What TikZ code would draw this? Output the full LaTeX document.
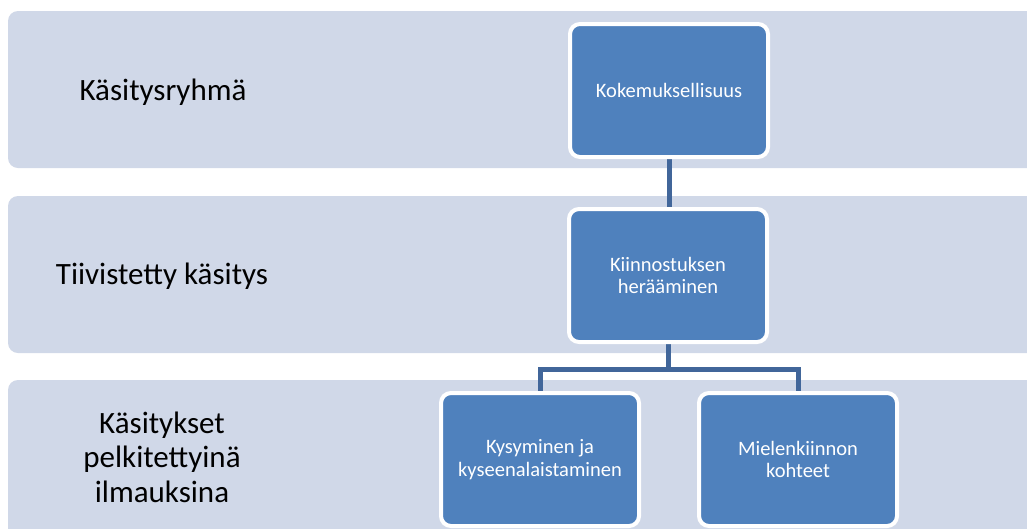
\documentclass[tikz,border=0pt]{standalone}
\usepackage{fontspec}
\setmainfont{Carlito}
\usetikzlibrary{backgrounds}
\definecolor{bandcol}{HTML}{D0D8E8}
\definecolor{boxcol}{HTML}{4F81BD}
\definecolor{linkcol}{HTML}{41669A}
\tikzset{
  band/.style={fill=bandcol, rounded corners=10pt},
  bluebox/.style={draw=white, line width=4pt, fill=boxcol, rounded corners=10pt,
    minimum width=198pt, minimum height=133pt, inner sep=0pt, text=white,
    align=center, font=\fontsize{20.5}{22.5}\selectfont},
  rowlabel/.style={text=black, align=center, font=\fontsize{31}{34.5}\selectfont, inner sep=0pt},
  link/.style={draw=linkcol, line width=5pt}
}
\begin{document}
\begin{tikzpicture}[x=1pt,y=-1pt]
\useasboundingbox (0,0) rectangle (1027,528);
\begin{scope}[on background layer]
\fill[white] (0,0) rectangle (1027,528);
\clip (0,0) rectangle (1027,528);
\fill[band] (8,11) rectangle (1045,168);
\fill[band] (8,196) rectangle (1045,353);
\fill[band] (8,380) rectangle (1045,560);
\end{scope}

\node[rowlabel, anchor=base] (l1) at (163,100) {Käsitysryhmä};
\node[rowlabel, anchor=base] (l2) at (162,284) {Tiivistetty käsitys};
\node[rowlabel] (l3) at (162,457) {Käsitykset\\pelkitettyinä\\ilmauksina};

\node[bluebox] (b1) at (669,90.5) {Kokemuksellisuus};
\node[bluebox] (b2) at (668,275.5) {Kiinnostuksen\\herääminen};
\node[bluebox] (b3) at (540,459.5) {Kysyminen ja\\kyseenalaistaminen};
\node[bluebox] (b4) at (798,459.5) {Mielenkiinnon\\kohteet};

\coordinate (j) at (668,369);
\begin{scope}[on background layer]
\draw[link] (b1.south) -- (b1.south |- b2.north);
\draw[link] (b2.south) -- (j);
\draw[link] (j) -| (b3.north);
\draw[link] (j) -| (b4.north);
\end{scope}
\end{tikzpicture}
\end{document}
